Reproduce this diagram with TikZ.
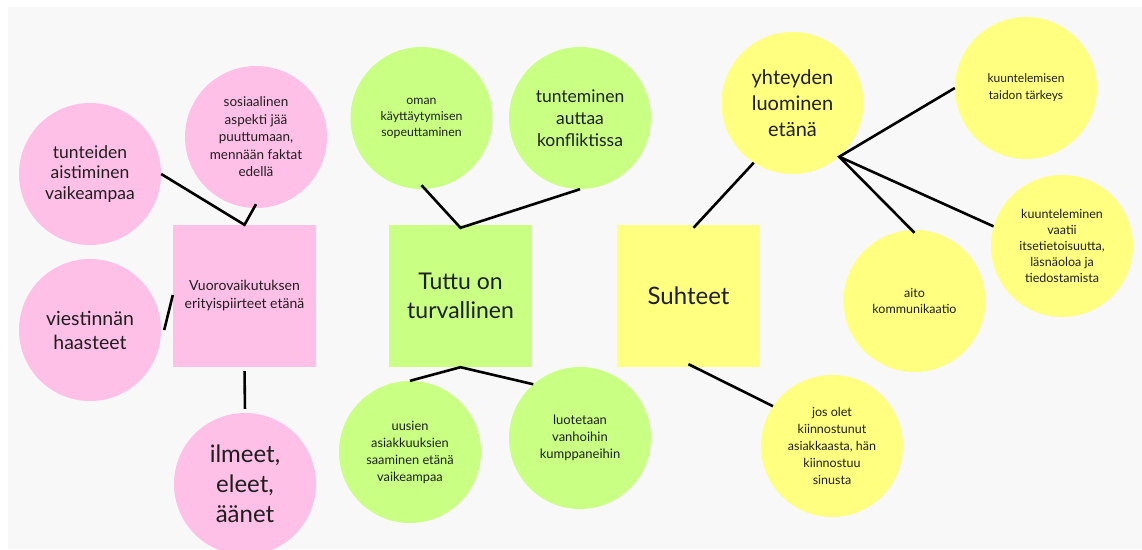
\documentclass[tikz,border=0pt]{standalone}
\usepackage{fontspec}
\setmainfont{Lato}
\definecolor{pk}{RGB}{255,192,232}
\definecolor{gr}{RGB}{201,255,130}
\definecolor{yl}{RGB}{255,255,128}
\definecolor{bg}{RGB}{248,248,248}
\definecolor{ink}{RGB}{30,30,30}
\newcommand{\fs}[2]{\fontsize{#1}{#2}\selectfont}

\begin{document}
\begin{tikzpicture}[x=1pt,y=-1pt,bub/.style={circle,minimum size=142pt,inner sep=0pt,align=center,text=ink},sq/.style={rectangle,minimum width=143pt,minimum height=142pt,inner sep=0pt,align=center,text=ink},line/.style={line width=2.6pt}]
\useasboundingbox (0,0) rectangle (1142,549);
\fill[white] (0,0) rectangle (1142,549);
\fill[bg] (8,7) rectangle (1142,549);
% vuorovaikutus
\node[sq,fill=pk,font=\fs{14}{18}] (v) at (244.5,296) {Vuorovaikutuksen\\erityispiirteet etänä};
\node[bub,fill=pk,font=\fs{17.5}{20.5}] (t) at (90,174) {tunteiden\\aistiminen\\vaikeampaa};
\node[bub,fill=pk,font=\fs{13.5}{17.5}] (s) at (256,137) {sosiaalinen\\aspekti jää\\puuttumaan,\\mennään faktat\\edellä};
\node[bub,fill=pk,font=\fs{19.5}{24}] (w) at (90,330) {viestinnän\\haasteet};
\node[bub,fill=pk,font=\fs{24}{30}] (i) at (245,484) {ilmeet,\\eleet,\\äänet};
% tuttu
\node[sq,fill=gr,font=\fs{23}{29}] (tt) at (460.5,296) {Tuttu on\\turvallinen};
\node[bub,fill=gr,font=\fs{12.3}{16}] (o) at (421.5,118) {oman\\käyttäytymisen\\sopeuttaminen};
\node[bub,fill=gr,font=\fs{17.5}{22}] (k) at (580,118) {tunteminen\\auttaa\\konfliktissa};
\node[bub,fill=gr,font=\fs{12.8}{17}] (u) at (410,452) {uusien\\asiakkuuksien\\saaminen etänä\\vaikeampaa};
\node[bub,fill=gr,font=\fs{13}{17}] (l) at (580,438) {luotetaan\\vanhoihin\\kumppaneihin};
% suhteet
\node[sq,fill=yl,font=\fs{24}{29}] (su) at (688.5,296) {Suhteet};
\node[bub,fill=yl,font=\fs{20}{26}] (y) at (792.5,103) {yhteyden\\luominen\\etänä};
\node[bub,fill=yl,font=\fs{12}{17}] (ku) at (1026,88) {kuuntelemisen\\taidon tärkeys};
\node[bub,fill=yl,font=\fs{12.5}{16}] (kv) at (1062,246) {kuunteleminen\\vaatii\\itsetietoisuutta,\\läsnäoloa ja\\tiedostamista};
\node[bub,fill=yl,font=\fs{12.5}{16}] (a) at (914.5,301) {aito\\kommunikaatio};
\node[bub,fill=yl,font=\fs{12.5}{17}] (j) at (832,446) {jos olet\\kiinnostunut\\asiakkaasta, hän\\kiinnostuu\\sinusta};
\draw[line] (t.east) -- (v.north) -- ([yshift=4pt]s.south);\draw[line] ([xshift=3pt]w.east) -- ([yshift=1pt]v.west);\draw[line,shorten >=4pt,shorten <=4pt] (v.south) -- (i.north);
\draw[line] ([yshift=4pt]o.south) -- ([yshift=-3pt]tt.north) -- (k.south);\draw[line] (u.north) -- (tt.south) -- (l.131);
\draw[line] (y.237) -- ([xshift=5pt,yshift=-3pt]su.north);\draw[line] (ku.west) -- (y.311) -- ([yshift=-3pt]a.north);\draw[line] (y.311) -- (kv.164);\draw[line] ([yshift=3pt]su.south) -- (j.146);
\end{tikzpicture}
\end{document}
